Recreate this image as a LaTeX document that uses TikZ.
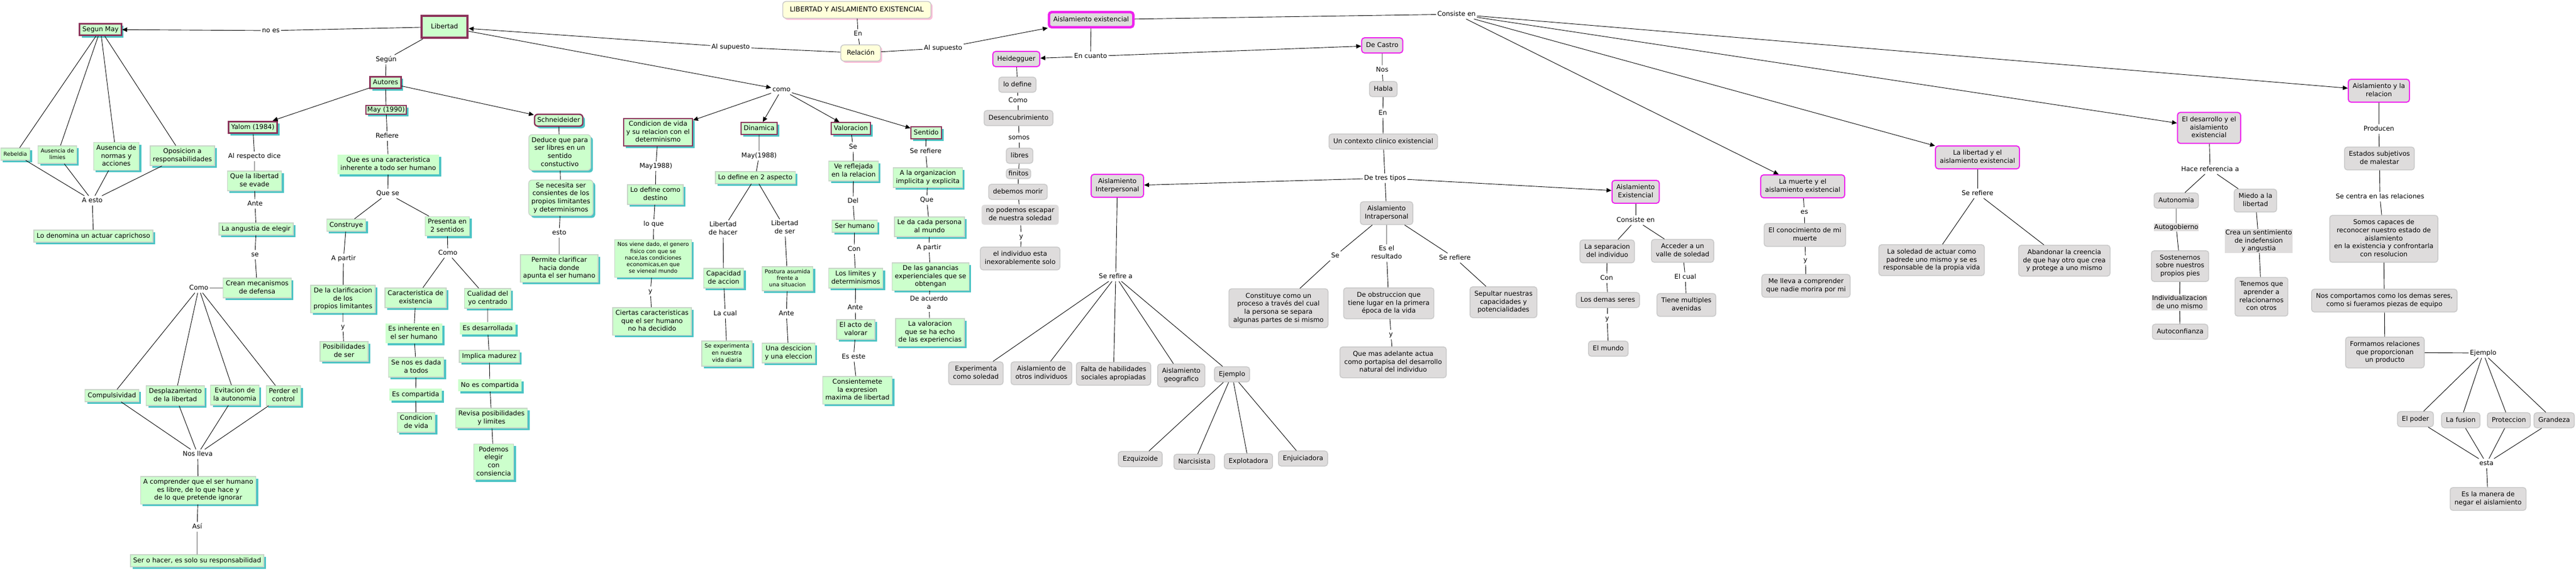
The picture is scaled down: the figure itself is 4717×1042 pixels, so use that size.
\documentclass[tikz,border=0pt]{standalone}
\usepackage{fontspec}
\setmainfont{DejaVu Sans}
\usetikzlibrary{arrows.meta}
\usetikzlibrary{shadows}

\definecolor{verde}{RGB}{204,255,204}
\definecolor{verdeborde}{RGB}{200,212,200}
\definecolor{sombra}{RGB}{76,196,196}
\definecolor{granate}{RGB}{140,50,90}
\definecolor{gris}{RGB}{222,220,220}
\definecolor{grisborde}{RGB}{200,200,200}
\definecolor{fucsia}{RGB}{238,34,238}
\definecolor{crema}{RGB}{255,255,218}
\definecolor{rosa}{RGB}{250,190,215}
\definecolor{naranja}{RGB}{240,140,60}

\newcommand{\arriba}{\rule{0pt}{9.6pt}}
\newcommand{\abajo}{\rule[-3pt]{0pt}{3pt}}

\tikzset{
  base/.style={align=center,font=\fontsize{12}{14.7}\selectfont,
    execute at begin node=\arriba,execute at end node=\abajo},
  chica/.style={font=\fontsize{10}{12.3}\selectfont},
  cajaverde/.style={base,rectangle,fill=verde,draw=verdeborde,line width=1.5pt,inner xsep=5pt,inner ysep=4.5pt},
  sombraverde/.style={general shadow={fill=sombra,shadow xshift=4pt,shadow yshift=-4pt}},
  verdebox/.style={cajaverde,sombraverde},
  verdeplano/.style={cajaverde,draw=none,sombraverde},
  autorbox/.style={cajaverde,draw=granate,line width=3pt,sombraverde},
  grisbox/.style={base,rectangle,rounded corners=5pt,fill=gris,draw=grisborde,line width=1.5pt,inner xsep=8pt,inner ysep=7.5pt},
  temabox/.style={grisbox,draw=fucsia,line width=2pt},
  grisplano/.style={base,fill=gris,inner sep=1pt},
  titulobox/.style={base,rounded corners=6pt,fill=crema,draw=grisborde,line width=1.5pt,
    general shadow={fill=rosa,shadow xshift=3pt,shadow yshift=-3pt}},
  enlace/.style={base,inner sep=2pt},
  flecha/.style={-{Triangle[length=9pt,width=8pt]}},
}

\begin{document}
\begin{tikzpicture}[x=1pt,y=-1pt,line width=0.9pt]
\useasboundingbox (0,0) rectangle (4717,1042);

% titulo
\node[titulobox,font=\fontsize{12.5}{15}\selectfont,inner xsep=13pt,inner ysep=9pt] (titulo) at (1569,18) {LIBERTAD Y AISLAMIENTO EXISTENCIAL};
\node[enlace] (en1) at (1571,62) {En};
\node[titulobox,inner xsep=11pt,inner ysep=8.5pt] (relacion) at (1576,97) {Relación};
\node[enlace] (alsup1) at (1338,86) {Al supuesto};
\node[enlace] (alsup2) at (1727,88) {Al supuesto};

% libertad
\node[cajaverde,draw=granate,line width=4.5pt,minimum width=84pt,minimum height=40pt,
  general shadow={fill=naranja,shadow xshift=2pt,shadow yshift=-2pt}] (libertad) at (814,49) {Libertad};
\node[enlace] (noes) at (496,56) {no es};
\node[enlace] (segunl) at (707,109) {Según};
\node[enlace] (como) at (1431,164) {como};

% segun may
\node[autorbox] (segun) at (184,54) {Segun May};
\node[verdebox,chica] (rebeldia) at (28,282) {Rebeldia};
\node[verdebox,chica] (limies) at (105,283) {Ausencia de\\limies};
\node[verdebox] (normas) at (213,286) {Ausencia de\\normas y\\acciones};
\node[verdebox] (oposicion) at (334,285) {Oposicion a\\responsabilidades};
\node[enlace] (aesto) at (169,367) {A esto};
\node[verdebox] (denomina) at (171,432) {Lo denomina un actuar caprichoso};

% autores
\node[autorbox] (autores) at (706,151) {Autores};
\node[autorbox,line width=2pt,inner xsep=3pt,inner ysep=1.5pt] (may90) at (707,201) {May (1990)};
\node[autorbox] (yalom) at (463,233) {Yalom (1984)};
\node[autorbox,rounded corners=6pt,line width=2.5pt] (schneid) at (1023,220) {Schneideider};

% yalom
\node[enlace] (alresp) at (466,286) {Al respecto dice};
\node[verdebox] (evade) at (466,331) {Que la libertad\\se evade};
\node[enlace] (ante1) at (467,373) {Ante};
\node[verdebox] (angustia) at (469,419) {La angustia de elegir};
\node[enlace] (se1) at (467,466) {se};
\node[verdebox] (crean) at (471,527) {Crean mecanismos\\de defensa};
\node[enlace] (como1) at (364,527) {Como};
\node[verdebox] (compuls) at (205,724) {Compulsividad};
\node[verdebox] (despl) at (321,724) {Desplazamiento\\de la libertad};
\node[verdebox] (evit) at (430,723) {Evitacion de\\la autonomia};
\node[verdebox] (perder) at (519,724) {Perder el\\control};
\node[enlace] (noslleva) at (362,831) {Nos lleva};
\node[verdebox] (comprender) at (363,897) {A comprender que el ser humano\\es libre, de lo que hace y\\de lo que pretende ignorar};
\node[enlace] (asi) at (361,964) {Así};
\node[verdebox] (serohacer) at (361,1026) {Ser o hacer, es solo su responsabilidad};

% may 1990
\node[enlace] (refiere) at (709,249) {Refiere};
\node[verdeplano] (quees) at (711,301) {Que es una caracteristica\\inherente a todo ser humano};
\node[enlace] (quese) at (710,354) {Que se};
\node[verdebox] (construye) at (634,412) {Construye};
\node[verdebox] (presenta) at (819,414) {Presenta en\\2 sentidos};
\node[enlace] (apartir1) at (629,473) {A partir};
\node[verdebox] (clarif) at (628,547) {De la clarificacion\\de los\\propios limitantes};
\node[enlace] (y1) at (628,598) {y};
\node[verdebox] (posib) at (630,643) {Posibilidades\\de ser};
\node[enlace] (como2) at (820,463) {Como};
\node[verdebox] (caract) at (761,545) {Caracteristica de\\existencia};
\node[verdeplano] (esinh) at (758,610) {Es inherente en\\el ser humano};
\node[verdebox] (senos) at (762,672) {Se nos es dada\\a todos};
\node[verdeplano] (escomp) at (761,722) {Es compartida};
\node[verdebox] (condvida) at (762,773) {Condicion\\de vida};
\node[verdebox] (cualidad) at (893,546) {Cualidad del\\yo centrado};
\node[verdeplano] (esdes) at (893,601) {Es desarrollada};
\node[verdebox] (implica) at (896,652) {Implica madurez};
\node[verdeplano] (noescomp) at (897,705) {No es compartida};
\node[verdebox] (revisa) at (900,765) {Revisa posibilidades\\y limites};
\node[verdebox] (podemos) at (904,845) {Podemos\\elegir\\con\\consiencia};

% schneideider
\node[verdebox,rounded corners=6pt] (deduce) at (1025,279) {Deduce que para\\ser libres en un\\sentido\\constuctivo};
\node[verdebox,rounded corners=6pt] (senecesita) at (1027,362) {Se necesita ser\\consientes de los\\propios limitantes\\y determinismos};
\node[enlace] (esto) at (1024,426) {esto};
\node[verdebox] (permite) at (1024,491) {Permite clarificar\\hacia donde\\apunta el ser humano};

% como
\node[autorbox,line width=2pt] (condicion) at (1205,242) {Condicion de vida\\y su relacion con el\\determinismo};
\node[enlace] (may88a) at (1201,304) {May1988)};
\node[verdebox] (destino) at (1200,356) {Lo define como\\destino};
\node[enlace] (loque) at (1197,410) {lo que};
\node[verdebox,chica] (nosviene) at (1196,473) {Nos viene dado, el genero\\fisico con que se\\nace,las condiciones\\economicas,en que\\se vieneal mundo};
\node[enlace] (y2) at (1191,533) {y};
\node[verdebox] (ciertas) at (1194,588) {Ciertas caracteristicas\\que el ser humano\\no ha decidido};

\node[autorbox,line width=2pt] (dinamica) at (1390,235) {Dinamica};
\node[enlace] (may88b) at (1390,285) {May(1988)};
\node[verdebox] (dosasp) at (1383,325) {Lo define en 2 aspecto};
\node[enlace] (libhacer) at (1324,419) {Libertad\\de hacer};
\node[enlace] (libser) at (1437,417) {Libertad\\de ser};
\node[verdebox] (capacidad) at (1325,509) {Capacidad\\de accion};
\node[verdebox,chica] (postura) at (1442,510) {Postura asumida\\frente a\\una situacion};
\node[enlace] (lacual) at (1328,574) {La cual};
\node[verdebox,font=\fontsize{10.3}{13}\selectfont] (experimenta) at (1331,647) {Se experimenta\\en nuestra\\vida diaria};
\node[enlace] (ante2) at (1440,574) {Ante};
\node[verdebox] (descicion) at (1444,646) {Una descicion\\y una eleccion};

\node[autorbox,line width=2pt] (valoracion) at (1558,235) {Valoracion};
\node[enlace] (se2) at (1562,269) {Se};
\node[verdebox] (reflejada) at (1563,313) {Ve reflejada\\en la relacion};
\node[enlace] (del) at (1562,368) {Del};
\node[verdebox] (serhumano) at (1565,414) {Ser humano};
\node[enlace] (con1) at (1564,456) {Con};
\node[verdebox] (limites) at (1567,509) {Los limites y\\determinismos};
\node[enlace] (ante3) at (1566,563) {Ante};
\node[verdebox] (acto) at (1567,603) {El acto de\\valorar};
\node[enlace] (eseste) at (1563,653) {Es este};
\node[verdebox] (consiente) at (1570,714) {Consientemete\\la expresion\\maxima de libertad};

\node[autorbox,line width=2pt] (sentido) at (1696,243) {Sentido};
\node[enlace] (serefiere1) at (1695,277) {Se refiere};
\node[verdebox] (organiz) at (1699,325) {A la organizacion\\implicita y explicita};
\node[enlace] (que1) at (1697,366) {Que};
\node[verdebox] (leda) at (1702,415) {Le da cada persona\\al mundo};
\node[enlace] (apartir2) at (1701,453) {A partir};
\node[verdebox] (ganancias) at (1704,506) {De las ganancias\\experienciales que se\\obtengan};
\node[enlace] (deacuerdo) at (1701,555) {De acuerdo\\a};
\node[verdebox] (valexp) at (1703,608) {La valoracion\\que se ha echo\\de las experiencias};

% aislamiento
\node[temabox,line width=4.5pt] (aisex) at (1998,36) {Aislamiento existencial};
\node[enlace] (encuanto) at (1997,103) {En cuanto};
\node[temabox] (heid) at (1861,108) {Heidegguer};
\node[grisbox] (lodefine) at (1863,155) {lo define};
\node[enlace] (como3) at (1864,184) {Como};
\node[grisbox] (desenc) at (1865,216) {Desencubrimiento};
\node[enlace] (somos) at (1866,252) {somos};
\node[grisbox] (libres) at (1867,285) {libres};
\node[grisbox,inner xsep=4pt,inner ysep=2.5pt] (finitos) at (1865,318) {finitos};
\node[grisbox] (debemos) at (1864,351) {debemos morir};
\node[grisbox,draw=none,inner ysep=5pt] (noescapar) at (1868,393) {no podemos escapar\\de nuestra soledad};
\node[enlace] (y3) at (1870,433) {y};
\node[grisbox] (individuo) at (1868,473) {el individuo esta\\inexorablemente solo};

\node[enlace] (consiste) at (2667,26) {Consiste en};
\node[temabox] (decastro) at (2531,83) {De Castro};
\node[enlace] (nos) at (2531,128) {Nos};
\node[grisbox] (habla) at (2533,163) {Habla};
\node[enlace] (en2) at (2532,207) {En};
\node[grisbox] (contexto) at (2533,259) {Un contexto clinico existencial};
\node[enlace] (tres) at (2536,326) {De tres tipos};

\node[temabox] (interp) at (2046,340) {Aislamiento\\Interpersonal};
\node[enlace] (serefirea) at (2043,506) {Se refire a};
\node[grisbox] (experim) at (1787,683) {Experimenta\\como soledad};
\node[grisbox] (otros) at (1907,683) {Aislamiento de\\otros individuos};
\node[grisbox] (falta) at (2039,684) {Falta de habilidades\\sociales apropiadas};
\node[grisbox] (geograf) at (2163,687) {Aislamiento\\geografico};
\node[grisbox] (ejemplo1) at (2256,685) {Ejemplo};
\node[grisbox] (ezq) at (2088,840) {Ezquizoide};
\node[grisbox] (narc) at (2187,845) {Narcisista};
\node[grisbox] (explot) at (2286,844) {Explotadora};
\node[grisbox] (enjuic) at (2386,839) {Enjuiciadora};

\node[grisbox] (intrap) at (2539,390) {Aislamiento\\Intrapersonal};
\node[enlace] (se3) at (2445,468) {Se};
\node[enlace] (esresult) at (2539,463) {Es el\\resultado};
\node[enlace] (serefiere2) at (2664,472) {Se refiere};
\node[grisbox] (constituye) at (2341,564) {Constituye como un\\proceso a través del cual\\la persona se separa\\algunas partes de si mismo};
\node[grisbox] (obstruccion) at (2543,555) {De obstruccion que\\tiene lugar en la primera\\época de la vida};
\node[enlace] (y4) at (2547,612) {y};
\node[grisbox] (masadelante) at (2551,663) {Que mas adelante actua\\como portapisa del desarrollo\\natural del individuo};
\node[grisbox] (sepultar) at (2753,553) {Sepultar nuestras\\capacidades y\\potencialidades};

\node[temabox] (existencial) at (2995,351) {Aislamiento\\Existencial};
\node[enlace] (consiste2) at (2995,403) {Consiste en};
\node[grisbox] (separacion) at (2943,460) {La separacion\\del individuo};
\node[grisbox] (acceder) at (3081,459) {Acceder a un\\valle de soledad};
\node[enlace] (con2) at (2942,509) {Con};
\node[enlace] (elcual) at (3086,507) {El cual};
\node[grisbox] (demas) at (2944,549) {Los demas seres};
\node[enlace] (y5) at (2943,583) {y};
\node[grisbox] (mundo) at (2945,638) {El mundo};
\node[grisbox] (avenidas) at (3088,558) {Tiene multiples\\avenidas};

\node[temabox] (muerte) at (3301,341) {La muerte y el\\aislamiento existencial};
\node[enlace] (es1) at (3304,388) {es};
\node[grisbox] (conocim) at (3305,430) {El conocimiento de mi\\muerte};
\node[enlace] (y6) at (3306,476) {y};
\node[grisbox] (mellevaa) at (3307,523) {Me lleva a comprender\\que nadie morira por mi};

\node[temabox] (libaisl) at (3621,288) {La libertad y el\\aislamiento existencial};
\node[enlace] (serefiere3) at (3621,354) {Se refiere};
\node[grisbox] (soledad) at (3537,476) {La soledad de actuar como\\padrede uno mismo y se es\\responsable de la propia vida};
\node[grisbox] (abandonar) at (3780,477) {Abandonar la creencia\\de que hay otro que crea\\y protege a uno mismo};

\node[temabox] (desarrollo) at (4045,234) {El desarrollo y el\\aislamiento\\existencial};
\node[enlace] (hace) at (4047,310) {Hace referencia a};
\node[grisbox] (autonomia) at (3985,367) {Autonomia};
\node[grisbox] (miedo) at (4130,367) {Miedo a la\\libertad};
\node[grisplano] (autogob) at (3985,416) {Autogobierno};
\node[grisplano] (creasent) at (4136,441) {Crea un sentimiento\\de indefension\\y angustia};
\node[grisbox] (sostener) at (3992,487) {Sostenernos\\sobre nuestros\\propios pies};
\node[grisbox] (tenemos) at (4141,543) {Tenemos que\\aprender a\\relacionarnos\\con otros};
\node[grisplano] (individ) at (3991,554) {Individualizacion\\de uno mismo};
\node[grisbox] (autoconf) at (3992,607) {Autoconfianza};

\node[temabox] (relacionA) at (4356,166) {Aislamiento y la\\relacion};
\node[enlace] (producen) at (4356,236) {Producen};
\node[grisbox] (estados) at (4357,290) {Estados subjetivos\\de malestar};
\node[enlace] (secentra) at (4358,360) {Se centra en las relaciones};
\node[grisbox] (somoscap) at (4365,437) {Somos capaces de\\reconocer nuestro estado de\\aislamiento\\en la existencia y confrontarla\\con resolucion};
\node[grisbox] (comportamos) at (4366,550) {Nos comportamos como los demas seres,\\como si fueramos piezas de equipo};
\node[grisbox] (formamos) at (4367,645) {Formamos relaciones\\que proporcionan\\un producto};
\node[enlace] (ejemplo2) at (4547,646) {Ejemplo};
\node[grisbox] (poder) at (4423,767) {El poder};
\node[grisbox] (fusion) at (4506,769) {La fusion};
\node[grisbox] (proteccion) at (4594,769) {Proteccion};
\node[grisbox] (grandeza) at (4677,769) {Grandeza};
\node[enlace] (esta) at (4553,848) {esta};
\node[grisbox] (negar) at (4556,913) {Es la manera de\\negar el aislamiento};

% conectores
\draw (titulo) -- (en1) -- (relacion);
\draw (relacion) -- (alsup1);
\draw[flecha] (alsup1) -- (libertad);
\draw (relacion) -- (alsup2);
\draw[flecha] (alsup2) -- (aisex);
\draw (libertad) -- (noes);
\draw[flecha] (noes) -- (segun);
\draw (libertad) -- (segunl) -- (autores);
\draw[flecha] (libertad) -- (como);
\foreach \n in {condicion,dinamica,valoracion,sentido} \draw[flecha] (como) -- (\n);
\draw[flecha] (autores) -- (yalom);
\draw (autores) -- (may90);
\draw[flecha] (autores) -- (schneid);

\foreach \n in {rebeldia,limies,normas,oposicion} {\draw (segun) -- (\n) -- (aesto);}
\draw (aesto) -- (denomina);

\draw (yalom) -- (alresp) -- (evade) -- (ante1) -- (angustia) -- (se1) -- (crean) -- (como1);
\foreach \n in {compuls,despl,evit,perder} {\draw (como1) -- (\n) -- (noslleva);}
\draw (noslleva) -- (comprender) -- (asi) -- (serohacer);

\draw (may90) -- (refiere) -- (quees) -- (quese);
\draw (quese) -- (construye) -- (apartir1) -- (clarif) -- (y1) -- (posib);
\draw (quese) -- (presenta) -- (como2);
\draw (como2) -- (caract) -- (esinh) -- (senos) -- (escomp) -- (condvida);
\draw (como2) -- (cualidad) -- (esdes) -- (implica) -- (noescomp) -- (revisa) -- (podemos);

\draw (schneid) -- (deduce) -- (senecesita) -- (esto) -- (permite);

\draw (condicion) -- (may88a) -- (destino) -- (loque) -- (nosviene) -- (y2) -- (ciertas);
\draw (dinamica) -- (may88b) -- (dosasp);
\draw (dosasp) -- (libhacer) -- (capacidad) -- (lacual) -- (experimenta);
\draw (dosasp) -- (libser) -- (postura) -- (ante2) -- (descicion);
\draw (valoracion) -- (se2) -- (reflejada) -- (del) -- (serhumano) -- (con1) -- (limites) -- (ante3) -- (acto) -- (eseste) -- (consiente);
\draw (sentido) -- (serefiere1) -- (organiz) -- (que1) -- (leda) -- (apartir2) -- (ganancias) -- (deacuerdo) -- (valexp);

\draw (aisex) -- (encuanto);
\draw[flecha] (encuanto) -- (heid);
\draw[flecha] (encuanto) -- (decastro);
\draw (heid) -- (lodefine) -- (como3) -- (desenc) -- (somos) -- (libres) -- (finitos) -- (debemos) -- (noescapar) -- (y3) -- (individuo);

\draw (aisex) -- (consiste);
\foreach \n in {muerte,libaisl,desarrollo,relacionA} \draw[flecha] (consiste) -- (\n);

\draw (decastro) -- (nos) -- (habla) -- (en2) -- (contexto) -- (tres);
\draw[flecha] (tres) -- (interp);
\draw[flecha] (tres) -- (existencial);
\draw (tres) -- (intrap);

\draw (interp) -- (serefirea);
\foreach \n in {experim,otros,falta,geograf,ejemplo1} \draw (serefirea) -- (\n);
\foreach \n in {ezq,narc,explot,enjuic} \draw (ejemplo1) -- (\n);

\draw (intrap) -- (se3) -- (constituye);
\draw (intrap) -- (esresult) -- (obstruccion) -- (y4) -- (masadelante);
\draw (intrap) -- (serefiere2) -- (sepultar);

\draw (existencial) -- (consiste2);
\draw (consiste2) -- (separacion) -- (con2) -- (demas) -- (y5) -- (mundo);
\draw (consiste2) -- (acceder) -- (elcual) -- (avenidas);

\draw (muerte) -- (es1) -- (conocim) -- (y6) -- (mellevaa);
\draw (libaisl) -- (serefiere3);
\draw (serefiere3) -- (soledad);
\draw (serefiere3) -- (abandonar);

\draw (desarrollo) -- (hace);
\draw (hace) -- (autonomia) -- (autogob) -- (sostener) -- (individ) -- (autoconf);
\draw (hace) -- (miedo) -- (creasent) -- (tenemos);

\draw (relacionA) -- (producen) -- (estados) -- (secentra) -- (somoscap) -- (comportamos) -- (formamos) -- (ejemplo2);
\foreach \n in {poder,fusion,proteccion,grandeza} {\draw (ejemplo2) -- (\n) -- (esta);}
\draw (esta) -- (negar);
\end{tikzpicture}
\end{document}
